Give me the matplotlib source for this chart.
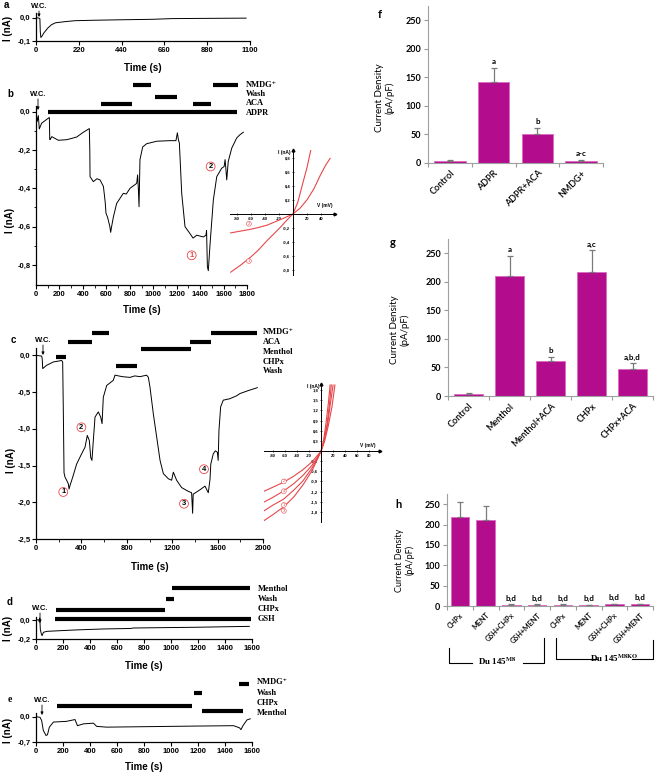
import numpy as np
import matplotlib
matplotlib.use('Agg')
import matplotlib.pyplot as plt
from matplotlib.lines import Line2D
from matplotlib.transforms import blended_transform_factory

plt.rcParams['font.family'] = ['Liberation Sans', 'DejaVu Sans']
plt.rcParams['mathtext.fontset'] = 'stix'

SERIF = ['Liberation Serif', 'DejaVu Serif']
CAL = ['Lato', 'DejaVu Sans']
MAG = '#B30C8C'
MAG_EDGE = '#DC6EC3'
RED = '#E8474A'

# ---------------- data: current traces (time s, current nA) ----------------
a_trace = [(0, 0), (15, -0.002), (20, -0.004), (22, -0.06), (25, -0.085), (30, -0.08),
           (40, -0.066), (60, -0.045), (80, -0.03), (100, -0.022), (150, -0.017),
           (200, -0.013), (300, -0.011), (440, -0.009), (600, -0.007), (700, -0.004),
           (880, -0.003), (1080, -0.002)]

b_trace = [(0, 0), (11, -0.05), (20, -0.02), (28, -0.09), (48, -0.06), (91, -0.04),
           (114, -0.03), (117, -0.14), (119, -0.146), (135, -0.13), (190, -0.149),
           (262, -0.146), (300, -0.14), (347, -0.132), (404, -0.107), (455, -0.088),
           (459, -0.2), (461, -0.339), (489, -0.365), (520, -0.35), (546, -0.356),
           (575, -0.39), (590, -0.47), (597, -0.53), (610, -0.55), (617, -0.567),
           (630, -0.6), (637, -0.63), (645, -0.6), (660, -0.55), (688, -0.479),
           (745, -0.426), (770, -0.43), (802, -0.4), (859, -0.374), (867, -0.33),
           (873, -0.4), (879, -0.496), (887, -0.25), (910, -0.184), (944, -0.167),
           (1030, -0.154), (1143, -0.151), (1194, -0.151), (1206, -0.11), (1216, -0.15),
           (1223, -0.163), (1243, -0.426), (1271, -0.6), (1314, -0.637), (1340, -0.66),
           (1371, -0.645), (1428, -0.654), (1450, -0.645), (1455, -0.62), (1462, -0.81),
           (1470, -0.83), (1485, -0.69), (1513, -0.46), (1542, -0.339), (1584, -0.295),
           (1605, -0.286), (1613, -0.25), (1620, -0.3), (1627, -0.356), (1640, -0.26),
           (1670, -0.19), (1712, -0.137), (1740, -0.12), (1769, -0.107)]

c_trace = [(0, 0), (50, -0.01), (55, -0.05), (59, -0.18), (94, -0.135), (153, -0.09),
           (226, -0.07), (235, -0.09), (241, -0.79), (247, -1.6), (256, -1.66),
           (270, -1.7), (285, -1.75), (291, -1.82), (300, -1.77), (323, -1.66),
           (358, -1.48), (402, -1.34), (432, -1.25), (452, -1.09), (470, -1.16),
           (482, -1.39), (493, -1.43), (505, -1.16), (520, -0.84), (549, -0.77),
           (570, -0.84), (582, -0.93), (593, -0.57), (623, -0.41), (681, -0.34),
           (696, -0.27), (760, -0.29), (828, -0.3), (870, -0.28), (916, -0.29),
           (975, -0.27), (990, -0.3), (1004, -0.43), (1034, -0.8), (1063, -1.11),
           (1093, -1.43), (1122, -1.61), (1166, -1.68), (1195, -1.7), (1210, -1.59),
           (1239, -1.7), (1283, -1.8), (1340, -1.85), (1371, -1.87), (1380, -2.15),
           (1385, -1.89), (1445, -1.83), (1489, -1.78), (1518, -1.87), (1533, -1.69),
           (1540, -1.48), (1562, -1.34), (1580, -1.3), (1598, -1.32), (1605, -1.43),
           (1612, -1.02), (1627, -0.7), (1650, -0.61), (1709, -0.59), (1768, -0.55),
           (1797, -0.52), (1870, -0.48), (1950, -0.44)]

d_trace = [(0, 0), (20, 0), (25, -0.02), (28, 0.02), (32, -0.1), (40, -0.15),
           (45, -0.165), (55, -0.13), (80, -0.12), (150, -0.115), (300, -0.105),
           (500, -0.095), (700, -0.09), (720, -0.085), (900, -0.082), (1200, -0.077),
           (1400, -0.072), (1580, -0.068)]

e_trace = [(0, 0), (30, -0.02), (42, -0.11), (54, -0.38), (74, -0.52), (85, -0.5),
           (99, -0.29), (129, -0.15), (227, -0.13), (277, -0.09), (289, -0.08),
           (307, -0.25), (351, -0.2), (425, -0.18), (450, -0.27), (524, -0.29),
           (750, -0.28), (969, -0.27), (1200, -0.26), (1464, -0.25), (1508, -0.31),
           (1518, -0.36), (1533, -0.25), (1563, -0.09), (1587, -0.06)]

# drug application periods (s)
b_drugs = ['NMDG\u207a', 'Wash', 'ACA', 'ADPR']
b_spans = [[(830, 980), (1510, 1725)], [(1015, 1200)], [(555, 820), (1340, 1495)], [(100, 1715)]]
c_drugs = ['NMDG\u207a', 'ACA', 'Menthol', 'CHPx', 'Wash']
c_spans = [[(490, 646), (1539, 1944)], [(279, 490), (1357, 1539)], [(922, 1363)], [(176, 261)], [(705, 887)]]
d_drugs = ['Menthol', 'Wash', 'CHPx', 'GSH']
d_spans = [[(1011, 1583)], [(962, 1019)], [(148, 952)], [(141, 1593)]]
e_drugs = ['NMDG\u207a', 'Wash', 'CHPx', 'Menthol']
e_spans = [[(1501, 1575)], [(1167, 1229)], [(158, 1155)], [(1229, 1533)]]

# I-V curves (mV, nA)
b_iv = [[(-89, -0.83), (-75, -0.73), (-61, -0.62), (-50, -0.52), (-37, -0.38), (-25, -0.26),
         (-18, -0.19), (-8, -0.08), (0, 0), (7, 0.17), (13, 0.4), (20, 0.66), (27, 0.98)],
        [(-89, -0.27), (-75, -0.245), (-61, -0.22), (-50, -0.195), (-37, -0.16), (-25, -0.11),
         (-13, -0.06), (0, 0), (10, 0.08), (20, 0.2), (30, 0.36), (39, 0.55), (47, 0.7), (53, 0.79)]]
c_iv = [[(-95, -1.77), (-80, -1.6), (-62, -1.42), (-45, -1.15), (-30, -0.88), (-15, -0.5),
         (-5, -0.18), (0, 0), (5, 0.3), (10, 0.8), (14, 1.4), (17, 1.95)],
        [(-95, -1.19), (-80, -1.07), (-62, -0.92), (-45, -0.74), (-30, -0.55), (-15, -0.32),
         (-5, -0.11), (0, 0), (6, 0.3), (12, 0.75), (18, 1.3), (23, 1.95)],
        [(-95, -2.06), (-80, -1.88), (-62, -1.65), (-45, -1.35), (-30, -1.0), (-15, -0.58),
         (-5, -0.2), (0, 0), (4, 0.3), (8, 0.8), (12, 1.4), (15, 1.95)],
        [(-95, -1.51), (-80, -1.37), (-62, -1.18), (-45, -0.96), (-30, -0.72), (-15, -0.42),
         (-5, -0.15), (0, 0), (5, 0.3), (11, 0.8), (15, 1.35), (20, 1.95)]]

# current density bars (pA/pF)
f_labels = ['Control', 'ADPR', 'ADPR+ACA', 'NMDG+']
f_vals = [3, 142, 50, 4]
f_err = [2, 25, 11, 1.5]
f_sig = ['', 'a', 'b', 'a-c']

g_labels = ['Control', 'Menthol', 'Menthol+ACA', 'CHPx', 'CHPx+ACA']
g_vals = [3, 211, 61, 218, 48]
g_err = [2, 35, 7, 37, 9]
g_sig = ['', 'a', 'b', 'a,c', 'a,b,d']

h_labels = ['CHPx', 'MENT', 'GSH+CHPx', 'GSH+MENT', 'CHPx', 'MENT', 'GSH+CHPx', 'GSH+MENT']
h_vals = [218, 212, 3, 3, 3, 2, 4, 4]
h_err = [37, 34, 1, 1, 1, 1, 1.5, 1.5]
h_sig = ['', '', 'b,d', 'b,d', 'b,d', 'b,d', 'b,d', 'b,d']

# ---------------- figure ----------------
W, H = 657, 776
fig = plt.figure(figsize=(W / 100, H / 100), dpi=100)


def box(x0, y0, x1, y1):
    return [x0 / W, 1 - y1 / H, (x1 - x0) / W, (y1 - y0) / H]


def comma(v, nd=1):
    return f'{v:.{nd}f}'.replace('.', ',')


def ftext(x, y, s, **kw):
    kw.setdefault('ha', 'center')
    kw.setdefault('va', 'center')
    return fig.text(x / W, 1 - y / H, s, **kw)


def trace_panel(rect, trace, xlim, ylim, xticks, yticks, xminor=None, yminor=None):
    ax = fig.add_axes(box(*rect))
    t, i = np.array(trace).T
    ax.plot(t, i, color='black', lw=0.7)
    ax.set_xlim(xlim)
    ax.set_ylim(ylim)
    for s in ['top', 'right']:
        ax.spines[s].set_visible(False)
    for s in ['left', 'bottom']:
        ax.spines[s].set_linewidth(0.9)
    ax.set_xticks(xticks)
    ax.set_xticklabels([str(v) for v in xticks], fontweight='bold')
    ax.set_yticks(yticks)
    ax.set_yticklabels([comma(v) for v in yticks], fontweight='bold')
    if xminor is not None:
        ax.set_xticks(xminor, minor=True)
    if yminor is not None:
        ax.set_yticks(yminor, minor=True)
    ax.tick_params(which='major', direction='out', length=3, width=0.8, pad=1, labelsize=5.5)
    ax.tick_params(which='minor', direction='out', length=1.8, width=0.6)
    return ax


def drug_bars(ax, names, spans, bar_y, label_x, label_y):
    tr = blended_transform_factory(ax.transData, fig.transFigure)
    for sp, yb in zip(spans, bar_y):
        for t0, t1 in sp:
            ax.plot([t0, t1], [1 - yb / H] * 2, transform=tr, color='black', lw=3,
                    solid_capstyle='butt', clip_on=False)
    for nm, yl in zip(names, label_y):
        ftext(label_x, yl, nm, family=SERIF, fontweight='bold', fontsize=6, ha='left')


def wc(x, ytext, y0, y1):
    ftext(x, ytext, 'W.C.', fontsize=5.5, fontweight='bold')
    fig.add_artist(plt.Annotation('', xy=(x / W, 1 - y1 / H), xytext=(x / W, 1 - y0 / H),
                                  xycoords='figure fraction', textcoords='figure fraction',
                                  arrowprops=dict(arrowstyle='-|>', lw=0.6, color='black',
                                                  mutation_scale=4, shrinkA=0, shrinkB=0)))


def circ(ax, x, y, s, fs=5.5, tc='black'):
    ax.text(x, y, s, fontsize=fs, fontweight='bold', color=tc, ha='center', va='center',
            bbox=dict(boxstyle='circle,pad=0.12', fc='white', ec=RED, lw=0.6), zorder=5)


def iv_inset(rect, curves, xlim, ylim, xticks, yticks, tags, tag_pos, vpos):
    ax = fig.add_axes(box(*rect))
    ax.patch.set_alpha(0)
    for c in curves:
        v, i = np.array(c).T
        ax.plot(v, i, color=RED, lw=0.8)
    ax.set_xlim(xlim)
    ax.set_ylim(ylim)
    ax.spines['left'].set_position(('data', 0))
    ax.spines['bottom'].set_position(('data', 0))
    for s in ['top', 'right']:
        ax.spines[s].set_visible(False)
    for s in ['left', 'bottom']:
        ax.spines[s].set_linewidth(0.7)
    ax.set_xticks(xticks)
    ax.set_xticklabels([str(v) for v in xticks], fontweight='bold')
    ax.set_yticks(yticks)
    ax.set_yticklabels([comma(v) for v in yticks], fontweight='bold')
    ax.tick_params(direction='inout', length=2, width=0.5, labelsize=3, pad=1)
    ax.plot([1], [0], '>', transform=ax.get_yaxis_transform(), color='black', ms=2, clip_on=False)
    ax.plot([0], [1], '^', transform=ax.get_xaxis_transform(), color='black', ms=2, clip_on=False)
    ax.text(-3, ylim[1], 'I (nA)', fontsize=3.5, fontweight='bold', ha='right', va='top')
    ax.text(vpos[0], vpos[1], 'V (mV)', fontsize=3.5, fontweight='bold', ha='center', va='bottom')
    for s, (x, y) in zip(tags, tag_pos):
        ax.text(x, y, s, fontsize=3, color=RED, ha='center', va='center',
                bbox=dict(boxstyle='circle,pad=0.1', fc='white', ec=RED, lw=0.4))
    return ax


def bar_panel(rect, labels, vals, errs, sig, xfs):
    ax = fig.add_axes(box(*rect))
    n = len(vals)
    x = np.arange(n)
    ax.bar(x, vals, width=0.72, color=MAG, edgecolor=MAG_EDGE, linewidth=0.7, zorder=2)
    ax.errorbar(x, vals, yerr=[np.zeros(n), errs], fmt='none', ecolor='#7a7a7a',
                elinewidth=0.9, capsize=2, capthick=0.9, zorder=3)
    for xi, v, e, s in zip(x, vals, errs, sig):
        if s:
            ax.annotate(s, (xi, v + e), xytext=(0, 2), textcoords='offset points', ha='center',
                        va='bottom', fontsize=5.8, fontweight='bold', family=CAL)
    ax.set_xlim(-0.5, n - 0.5)
    ax.set_ylim(0, 275)
    ax.set_yticks(range(0, 251, 50))
    ax.set_yticklabels([str(v) for v in range(0, 251, 50)], family=CAL, fontweight='bold')
    ax.set_xticks(np.arange(n + 1) - 0.5)
    ax.set_xticklabels([])
    ax.set_xticks(x, minor=True)
    ax.set_xticklabels(labels, minor=True, rotation=45, ha='right', va='top',
                       rotation_mode='anchor', fontsize=xfs, family=CAL, fontweight='semibold')
    ax.tick_params(axis='x', which='minor', length=0, pad=4)
    ax.tick_params(axis='x', which='major', length=3, color='#999999', width=0.8)
    ax.tick_params(axis='y', length=3, color='#999999', width=0.8, labelsize=6.5, pad=2)
    for s in ['top', 'right']:
        ax.spines[s].set_visible(False)
    for s in ['left', 'bottom']:
        ax.spines[s].set_color('#a0a0a0')
    return ax


# ---- panel a ----
ax_a = trace_panel((36, 13, 250, 41), a_trace, (0, 1100), (-0.1, 0.02),
                   [0, 220, 440, 660, 880, 1100], [0, -0.1])
ftext(6, 5, 'a', fontsize=7, fontweight='bold')
wc(39, 6, 11, 17)
ftext(143, 68, 'Time (s)', fontsize=7, fontweight='bold')
ftext(8, 28, 'I (nA)', fontsize=7, fontweight='bold', rotation=90)

# ---- panel b ----
ax_b = trace_panel((36, 106, 247, 285), b_trace, (0, 1800), (-0.905, 0.03),
                   list(range(0, 1801, 200)), [0, -0.2, -0.4, -0.6, -0.8],
                   xminor=list(range(100, 1800, 200)), yminor=[-0.1, -0.3, -0.5, -0.7])
drug_bars(ax_b, b_drugs, b_spans, [85, 97, 104, 112], 246, [85, 94, 103, 113])
ftext(10, 94, 'b', fontsize=7, fontweight='bold')
wc(38, 94, 99, 110)
circ(ax_b, 1328, -0.75, '1', tc=RED)
circ(ax_b, 1490, -0.286, '2')
ftext(142, 310, 'Time (s)', fontsize=7, fontweight='bold')
ftext(10, 220, 'I (nA)', fontsize=7, fontweight='bold', rotation=90)
iv_inset((230, 150, 335, 275), b_iv, (-90, 60), (-0.87, 0.91), [-80, -60, -40, -20, 20, 40],
         [-0.8, -0.6, -0.4, -0.2, 0.2, 0.4, 0.6, 0.8], ['1', '2'], [(-63, -0.67), (-63, -0.14)],
         (46, 0.08))

# ---- panel c ----
ax_c = trace_panel((36, 348, 263, 539), c_trace, (0, 2000), (-2.5, 0.1),
                   [0, 400, 800, 1200, 1600, 2000], [0, -0.5, -1.0, -1.5, -2.0, -2.5],
                   xminor=[200, 600, 1000, 1400, 1800])
drug_bars(ax_c, c_drugs, c_spans, [333, 342, 349, 357, 366], 263, [332, 342, 352, 362, 371])
ftext(13, 340, 'c', fontsize=7, fontweight='bold')
wc(43, 340, 345, 355)
circ(ax_c, 240, -1.86, '1')
circ(ax_c, 400, -0.98, '2')
circ(ax_c, 1304, -2.02, '3')
circ(ax_c, 1480, -1.55, '4')
ftext(150, 567, 'Time (s)', fontsize=7, fontweight='bold')
ftext(11, 460, 'I (nA)', fontsize=7, fontweight='bold', rotation=90)
iv_inset((264, 384, 380, 522), c_iv, (-95, 98), (-2.1, 1.98), [-80, -60, -40, -20, 20, 40, 60, 80],
         [-1.8, -1.5, -1.2, -0.9, -0.6, -0.3, 0.3, 0.6, 0.9, 1.2, 1.5, 1.8],
         ['1', '2', '3', '4'], [(-62, -1.6), (-62, -0.9), (-62, -1.77), (-62, -1.19)], (78, 0.1))

# ---- panel d ----
ax_d = trace_panel((36, 617, 252, 639), d_trace, (0, 1600), (-0.2, 0.03),
                   list(range(0, 1601, 200)), [0, -0.2])
drug_bars(ax_d, d_drugs, d_spans, [588, 599, 610, 619], 258, [589, 599, 609, 619])
ftext(10, 602, 'd', fontsize=7, fontweight='bold')
wc(40, 608, 613, 623)
ftext(144, 666, 'Time (s)', fontsize=7, fontweight='bold')
ftext(8, 628, 'I (nA)', fontsize=7, fontweight='bold', rotation=90)

# ---- panel e ----
ax_e = trace_panel((36, 713, 252, 742), e_trace, (0, 1600), (-0.7, 0.1),
                   list(range(0, 1601, 200)), [0, -0.7])
drug_bars(ax_e, e_drugs, e_spans, [684, 693, 706, 711], 257, [682, 693, 703, 713])
ftext(10, 700, 'e', fontsize=7, fontweight='bold', family=SERIF)
wc(42, 700, 705, 715)
ftext(144, 767, 'Time (s)', fontsize=7, fontweight='bold')
ftext(8, 730, 'I (nA)', fontsize=7, fontweight='bold', rotation=90)

# ---- panels f, g, h ----
bar_panel((428, 6, 603, 163), f_labels, f_vals, f_err, f_sig, 6.5)
ftext(380, 15, 'f', fontsize=8, fontweight='bold', family=CAL)
ftext(385, 98, 'Current Density\n(pA/pF)', fontsize=7, rotation=90, family=CAL, linespacing=1.1)

bar_panel((448, 239, 653, 396), g_labels, g_vals, g_err, g_sig, 6.5)
ftext(393, 242, 'g', fontsize=8, fontweight='bold', family=CAL)
ftext(400, 330, 'Current Density\n(pA/pF)', fontsize=7, rotation=90, family=CAL, linespacing=1.1)

bar_panel((447, 494, 653, 606), h_labels, h_vals, h_err, h_sig, 5.2)
ftext(398, 504, 'h', fontsize=8, fontweight='bold', family=CAL)
ftext(405, 560, 'Current Density\n(pA/pF)', fontsize=6.5, rotation=90, family=CAL, linespacing=1.1)

# group brackets under h
for xs, ys in [([449, 449, 472], [648, 663, 663]), ([523, 544, 544], [663, 663, 638]),
               ([556, 556, 597], [638, 659, 659]), ([632, 653, 653], [659, 659, 640])]:
    fig.add_artist(Line2D([x / W for x in xs], [1 - y / H for y in ys], transform=fig.transFigure,
                          color='black', lw=0.8))
ftext(497, 661, r'Du 145$^{\mathbf{M8}}$', fontsize=6.5, fontweight='bold', family=SERIF)
ftext(614, 658, r'Du 145$^{\mathbf{M8KO}}$', fontsize=6.5, fontweight='bold', family=SERIF)

fig.savefig('out.png', dpi=100)
